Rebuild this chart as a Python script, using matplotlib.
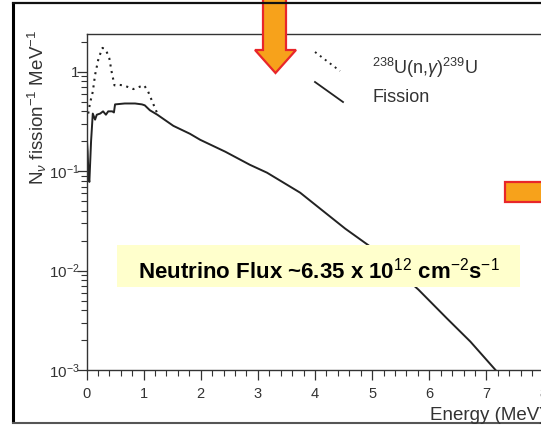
import matplotlib
matplotlib.use("Agg")
import matplotlib.pyplot as plt
from matplotlib.patches import Rectangle, Polygon
from matplotlib.ticker import MultipleLocator, LogLocator, FixedLocator, NullFormatter
import numpy as np

plt.rcParams['font.family'] = ['Liberation Sans', 'DejaVu Sans']
plt.rcParams['mathtext.fontset'] = 'custom'
plt.rcParams['mathtext.rm'] = 'Liberation Sans'
plt.rcParams['mathtext.it'] = 'Liberation Sans:italic'
plt.rcParams['mathtext.bf'] = 'Liberation Sans:bold'

## Data
# fission antineutrino spectrum
E_fis = [0.0, 0.02, 0.035, 0.05, 0.08, 0.11, 0.15, 0.18, 0.24, 0.29, 0.34, 0.38,
         0.45, 0.48, 0.50, 0.67, 0.85, 0.97, 1.02, 1.11, 1.24, 1.52, 1.81, 1.99,
         2.43, 2.86, 3.16, 3.74, 4.09, 4.53, 4.97, 5.81, 6.31, 6.72, 7.16]
N_fis = [0.24, 0.157, 0.088, 0.078, 0.2, 0.38, 0.33, 0.37, 0.38, 0.40, 0.37, 0.40,
         0.40, 0.39, 0.47, 0.48, 0.48, 0.47, 0.46, 0.41, 0.37, 0.286, 0.238, 0.207,
         0.157, 0.116, 0.0966, 0.0608, 0.042, 0.0264, 0.0174, 0.00644,
         0.0033, 0.00193, 0.001]
# 238U(n,gamma)239U contribution (added on top, low energy)
E_cap = [0.03, 0.06, 0.11, 0.15, 0.21, 0.28, 0.34, 0.40, 0.44, 0.49, 0.56, 0.65,
         0.82, 0.94, 1.01, 1.08, 1.14, 1.20, 1.24]
N_cap = [0.38, 0.48, 0.63, 0.93, 1.36, 1.74, 1.66, 1.36, 1.0, 0.73, 0.74, 0.73,
         0.67, 0.71, 0.73, 0.63, 0.52, 0.43, 0.38]

x_ticks = [0, 1, 2, 3, 4, 5, 6, 7, 8]
y_ticks = [1e-3, 1e-2, 1e-1, 1]
y_ticklabels = [r'$10^{-3}$', r'$10^{-2}$', r'$10^{-1}$', r'$1\quad$']

leg_labels = [r'$^{238}$U(n,$\gamma$)$^{239}$U', 'Fission']
note = r'Neutrino Flux ~6.35 x 10$^{12}$ cm$^{-2}$s$^{-1}$'

W, H = 541, 425
fig = plt.figure(figsize=(W/100., H/100.), dpi=100)
fig.patch.set_facecolor('white')

# main plot, pixel box: x 86.5..543.5, y 34..370
ax = fig.add_axes([86.5/W, (H-370)/H, (543.5-86.5)/W, (370-34)/H])
ax.plot(E_fis, N_fis, color='#222222', lw=1.4)
ax.plot(E_cap, N_cap, color='#222222', lw=1.5, ls=(0, (1, 2.2)))
ax.set_yscale('log')
ax.set_xlim(0, 8)
ax.set_ylim(1e-3, 2.4)

ax.xaxis.set_major_locator(FixedLocator(x_ticks))
ax.xaxis.set_minor_locator(MultipleLocator(0.2))
ax.yaxis.set_major_locator(FixedLocator(y_ticks))
ax.yaxis.set_minor_locator(LogLocator(base=10, subs=np.arange(2, 10)))
ax.yaxis.set_minor_formatter(NullFormatter())
ax.set_yticklabels(y_ticklabels)

for s in ['left', 'bottom', 'top']:
    ax.spines[s].set_color('#333333')
    ax.spines[s].set_linewidth(1.0)
ax.spines['right'].set_visible(False)
ax.tick_params(which='major', direction='out', length=7, width=0.9, color='#333333',
               labelcolor='#333333')
ax.tick_params(which='minor', direction='out', length=4, width=0.8, color='#333333')
ax.tick_params(axis='x', which='major', pad=5, labelsize=10.5)
ax.tick_params(axis='y', which='major', pad=-2, labelsize=11)

# overlay in pixel coordinates for the decorations
ov = fig.add_axes([0, 0, 1, 1], zorder=5)
ov.set_xlim(0, W)
ov.set_ylim(H, 0)
ov.axis('off')
ov.patch.set_alpha(0)

ov.text(37, 30, r'N$_\nu$ fission$^{-1}$ MeV$^{-1}$', rotation=90, ha='center',
        va='top', fontsize=13.5, color='#333333')
ov.text(546, 420, 'Energy (MeV)', ha='right', va='baseline', fontsize=13.5,
        color='#333333')

# legend with slanted samples
ov.plot([315, 340], [52, 71], color='#222222', lw=1.4, ls=(0, (1, 2.2)))
ov.plot([315, 343], [82, 102], color='#222222', lw=1.3)
ov.text(372, 74, leg_labels[0], ha='left', va='baseline', fontsize=13, color='#333333')
ov.text(372, 102, leg_labels[1], ha='left', va='baseline', fontsize=13, color='#333333')

# yellow note box
ov.add_patch(Rectangle((117, 245), 403, 42, facecolor='#FFFFCC', edgecolor='none'))
ov.text(319, 278, note, ha='center', va='baseline', fontsize=16, fontweight='bold',
        color='black')

# orange arrows
orange = '#F7A21B'
red = '#E8262A'
ov.add_patch(Polygon([(263, -5), (286, -5), (286, 50), (296, 50), (275.5, 73),
                      (255, 50), (263, 50)], closed=True, facecolor=orange,
                     edgecolor=red, lw=1.6))
ov.add_patch(Rectangle((505, 182), 45, 20, facecolor=orange, edgecolor=red, lw=1.6))

# slide frame
ov.plot([13, 13], [3, 423], color='black', lw=2.2, solid_capstyle='butt')
ov.plot([13, 545], [3, 3], color='#111111', lw=1.6)
ov.plot([13, 545], [423, 423], color='#555555', lw=1.5)

fig.savefig('out.png', dpi=100)
